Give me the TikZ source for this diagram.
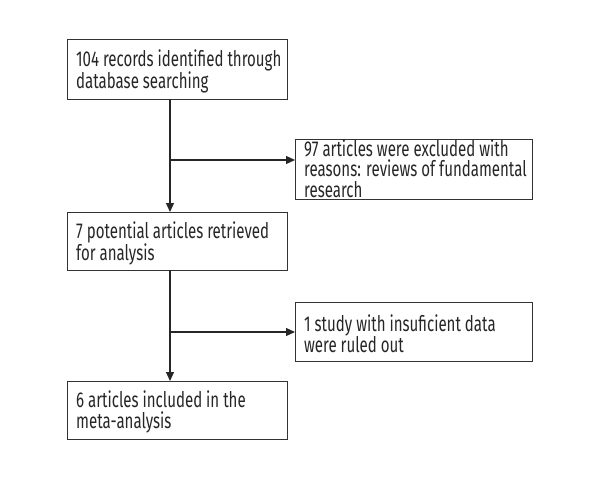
\documentclass[tikz,border=0pt]{standalone}
\usepackage{fontspec}
\setmainfont[FakeStretch=0.70]{Fira Sans}
\usetikzlibrary{arrows.meta}
\begin{document}
\begin{tikzpicture}[x=1pt,y=-1pt,
  box/.style={draw=black!80,line width=1.2pt,anchor=north west,inner sep=0pt},
  boxtext/.style={anchor=west,inner sep=0pt,align=left,
    font=\fontsize{21.5}{20.5}\selectfont,text=black!85},
  conn/.style={draw=black!85,line width=1.2pt},
  arr/.style={conn,-{Triangle[length=9pt,width=8pt]}}]
\useasboundingbox (0,0) rectangle (600,480);
\newcommand{\bx}[7]{%
  \node[box,minimum width=#4,minimum height=#5] (#1) at (#2,#3) {};
  \node[boxtext] (#1t) at ([xshift=9pt,yshift=#7]#1.west) {#6};}
\bx{b1}{67}{39}{220}{60}{104 records identified through\\database searching}{-1.5pt}
\bx{b2}{295}{139}{237}{60}{97 articles were excluded with\\reasons: reviews of fundamental\\research}{1pt}
\bx{b3}{67}{212}{220}{58}{7 potential articles retrieved\\for analysis}{-1.5pt}
\bx{b4}{295}{302}{237}{59}{1 study with insuficient data\\were ruled out}{-1.5pt}
\bx{b5}{67}{381}{220}{58}{6 articles included in the\\meta-analysis}{-1.5pt}
\coordinate (s1) at (170,99);
\coordinate (j1) at (170,160);
\coordinate (s2) at (170,270);
\coordinate (j2) at (170,332);
\draw[arr] (s1) -- (b3.north -| s1);
\draw[arr] (j1) -- (b2.west |- j1);
\draw[arr] (s2) -- (b5.north -| s2);
\draw[arr] (j2) -- (b4.west |- j2);
\end{tikzpicture}
\end{document}
